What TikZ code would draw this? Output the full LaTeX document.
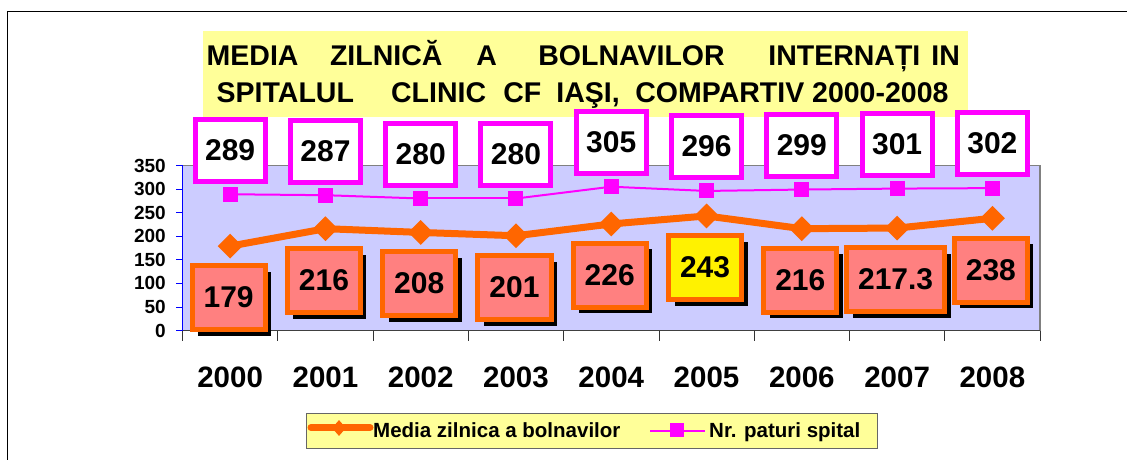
\documentclass[tikz,border=0pt]{standalone}
\usepackage{fontspec}
\setmainfont{Liberation Sans}
\usetikzlibrary{calc,shapes.geometric,shadows}

\definecolor{plotblue}{HTML}{CCCCFF}
\definecolor{lineorange}{HTML}{FF6600}
\definecolor{boxsalmon}{HTML}{FF8080}
\definecolor{paleyellow}{HTML}{FFFF99}
\definecolor{bedpink}{HTML}{FF00FF}

\newcommand{\tword}[2]{\makebox[#1pt][l]{#2}}

\begin{document}
\begin{tikzpicture}[x=1pt,y=-1pt,
  bignum/.style={font=\fontsize{30}{30}\selectfont\bfseries},
  titletext/.style={font=\fontsize{28.5}{28.5}\selectfont\bfseries, inner sep=0pt},
  yearlbl/.style={font=\fontsize{29.5}{29.5}\selectfont\bfseries},
  ticklbl/.style={font=\fontsize{19}{19}\selectfont\bfseries, inner sep=0pt},
  legtext/.style={font=\fontsize{20.5}{20.5}\selectfont\bfseries, inner sep=0pt},
  dmark/.style={diamond, fill=lineorange, minimum width=25pt, minimum height=25pt, inner sep=0pt},
  smark/.style={rectangle, fill=bedpink, minimum size=15pt, inner sep=0pt},
  medline/.style={lineorange, line width=7pt},
  bedline/.style={bedpink, line width=2pt},
  vallbl/.style={bignum, draw=lineorange, line width=5pt, minimum width=72pt, minimum height=64pt, inner xsep=11.5pt,
    drop shadow={shadow xshift=6pt, shadow yshift=-6pt, opacity=1, fill=black}},
  bedlbl/.style={bignum, draw=bedpink, line width=5pt, fill=white, minimum width=70pt, minimum height=62pt},
]
\useasboundingbox (0,0) rectangle (1127,460);

%--- outer frame ---------------------------------------------------------
\draw[line width=1pt] (1127,12) -- (7.5,12) -- (7.5,460);

%--- title ---------------------------------------------------------------
\node[fill=paleyellow, minimum width=765pt, minimum height=86pt, inner sep=0pt] (titlebox) at (585.5,74) {};
\node[titletext, anchor=base west] (title1) at (206.5,66)
  {\tword{123.4}{MEDIA}\tword{146.3}{ZILNICĂ}\tword{62}{A}\tword{230}{BOLNAVILOR}\tword{163}{INTERNAȚI}IN};
\node[titletext, anchor=base west] (title2) at (216.5,102.7)
  {\tword{174.4}{SPITALUL}\tword{112.3}{CLINIC}\tword{53}{CF}\tword{79}{IAŞI,}COMPARTIV 2000-2008};

%--- plot area and axes --------------------------------------------------
\fill[plotblue] (182.5,165.5) rectangle (1040,330.5);
\draw[gray, line width=1.5pt] (182.5,165.5) -- (1040,165.5) -- (1040,330.5);
\draw[black!75, line width=1.2pt] (182.5,330.5) -- (1040,330.5);
\draw[blue, line width=1pt] (182.5,330.5) -- (182.5,165.5);

\foreach \v in {0,50,...,350}{
  \draw[blue, line width=0.8pt] (176,{330.5-\v*0.47143}) -- (182.5,{330.5-\v*0.47143});
  \node[ticklbl, anchor=east] (tk\v) at (166,{330.5-\v*0.47143}) {\v};
}
\foreach \k in {0,...,9}{
  \draw[black!80, line width=0.8pt] ({182.5+95.28*\k},330.5) -- ({182.5+95.28*\k},341);
}

%--- markers and years ---------------------------------------------------
\foreach \i/\yr/\md/\np in {1/2000/179/289, 2/2001/216/287, 3/2002/208/280,
    4/2003/201/280, 5/2004/226/305, 6/2005/243/296, 7/2006/216/299,
    8/2007/217.3/301, 9/2008/238/302}{
  \pgfmathsetmacro{\cx}{182.5+95.28*(\i-0.5)}
  \node[dmark] (d\i) at (\cx,{330.5-\md*0.47143}) {};
  \node[smark] (s\i) at (\cx,{330.5-\np*0.47143}) {};
  \node[yearlbl] (yr\i) at (\cx,377) {\yr};
}

% series lines
\foreach \a/\b in {1/2,2/3,3/4,4/5,5/6,6/7,7/8,8/9}{
  \draw[medline] (d\a.center) -- (d\b.center);
  \draw[bedline] (s\a.center) -- (s\b.center);
}

%--- data labels ---------------------------------------------------------
\foreach \i/\md/\np/\my/\py/\fc in {1/179/289/297.5/150/boxsalmon, 2/216/287/280.5/151/boxsalmon,
    3/208/280/283.5/154/boxsalmon, 4/201/280/287.5/154/boxsalmon, 5/226/305/275/142/boxsalmon,
    6/243/296/267.5/146.5/yellow, 7/216/299/280/145/boxsalmon, 8/217.3/301/279.5/144/boxsalmon,
    9/238/302/270/143/boxsalmon}{
  \pgfmathsetmacro{\cx}{182.5+95.28*(\i-0.5)}
  \node[vallbl, fill=\fc] (ml\i) at ({\cx-1.5},\my) {\md};
  \node[bedlbl] (pl\i) at (\cx,\py) {\np};
}

%--- legend --------------------------------------------------------------
\node[draw=black!60, line width=1pt, fill=paleyellow, minimum width=571pt, minimum height=35pt, inner sep=0pt] (legbox) at (591.5,430.5) {};
\coordinate (lgma) at (311,427.5);
\coordinate (lgmb) at (370,427.5);
\draw[medline, line cap=round] (lgma) -- (lgmb);
\node[dmark, minimum width=14pt, minimum height=16pt] (lgmd) at (339,428) {};
\node[legtext, anchor=base west] (lgmt) at (373,437.7) {Media zilnica a bolnavilor};
\coordinate (lgpa) at (650,430.5);
\coordinate (lgpb) at (705,430.5);
\draw[bedline] (lgpa) -- (lgpb);
\node[smark, minimum size=14pt] (lgps) at (677,430.3) {};
\node[legtext, anchor=base west] (lgpt) at (709,437.7) {Nr. paturi spital};

\end{tikzpicture}
\end{document}
